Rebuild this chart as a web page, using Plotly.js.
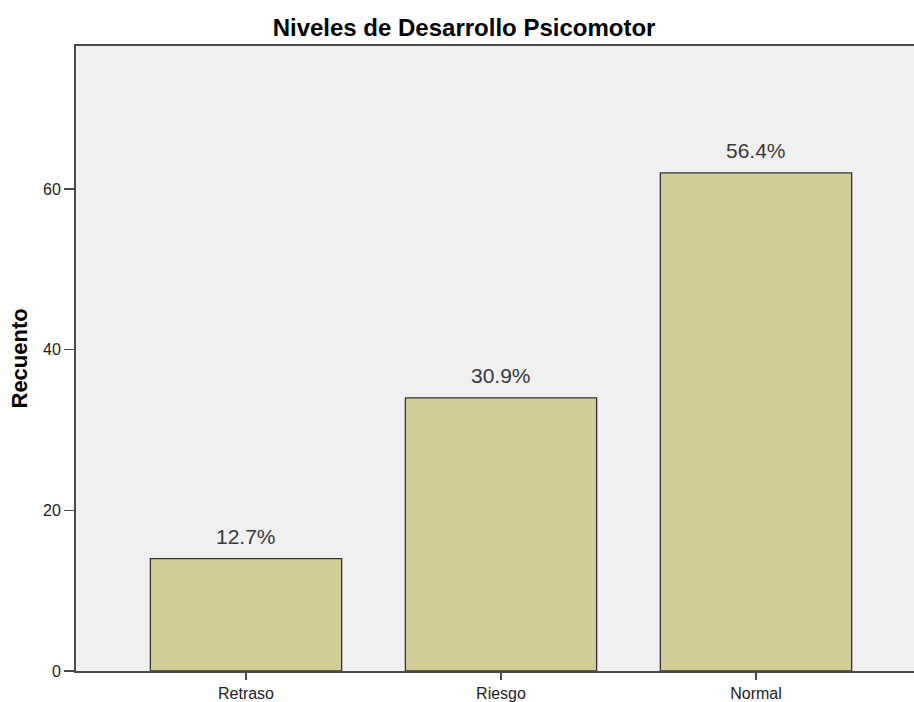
<!DOCTYPE html>
<html>
<head>
<meta charset="utf-8">
<script src="https://cdn.plot.ly/plotly-3.0.1.min.js"></script>
<style>
html, body { margin: 0; padding: 0; background: #ffffff; overflow: hidden; }
#chart { width: 914px; height: 702px; }
</style>
</head>
<body>
<div id="chart"></div>
<script>
// ---- Data ----
const categories = ["Retraso", "Riesgo", "Normal"];
const counts = [14, 34, 62];
const percentLabels = ["12.7%", "30.9%", "56.4%"];
const yTickValues = [0, 20, 40, 60];
const chartTitle = "Niveles de Desarrollo Psicomotor";
const yAxisTitle = "Recuento";

const FONT = "Liberation Sans, Arial, sans-serif";

const trace = {
  type: "bar",
  x: categories,
  y: counts,
  width: 0.75,
  marker: { color: "#D3CE97", line: { color: "#333333", width: 1.3 } },
  hoverinfo: "x+y",
  showlegend: false
};

const annotations = categories.map((c, i) => ({
  x: c, y: counts[i], xref: "x", yref: "y",
  text: percentLabels[i], showarrow: false,
  yanchor: "bottom", xanchor: "center", yshift: 9,
  font: { family: FONT, size: 21, color: "#3a3a3a" }
}));

annotations.push({
  xref: "paper", yref: "paper", x: 0, y: 0.5,
  xanchor: "center", yanchor: "middle", xshift: -57,
  textangle: -90, showarrow: false, text: yAxisTitle,
  font: { family: FONT, size: 22, color: "#000000", weight: "bold" }
});

const layout = {
  width: 914, height: 702,
  margin: { l: 76, r: 0, t: 46, b: 31, pad: 0 },
  paper_bgcolor: "#ffffff",
  plot_bgcolor: "#F0F0F0",
  title: {
    text: "<b>" + chartTitle + "</b>",
    xref: "container", yref: "container",
    x: 0.5077, y: 1 - 28 / 702, xanchor: "center", yanchor: "middle",
    font: { family: FONT, size: 24, color: "#000000" }
  },
  xaxis: {
    type: "category",
    range: [-0.6667, 2.6196],
    showline: true, linecolor: "#4a4a4a", linewidth: 2, mirror: true,
    ticks: "outside", ticklen: 7, tickwidth: 1.5, tickcolor: "#4a4a4a",
    showgrid: false, zeroline: false,
    tickfont: { family: FONT, size: 16, color: "#222222" }
  },
  yaxis: {
    range: [0, 77.8],
    tickvals: yTickValues,
    showline: true, linecolor: "#4a4a4a", linewidth: 2,
    ticks: "outside", ticklen: 10, tickwidth: 1.5, tickcolor: "#4a4a4a",
    showgrid: false, zeroline: false,
    tickfont: { family: FONT, size: 16, color: "#222222" }
  },
  annotations: annotations
};

Plotly.newPlot("chart", [trace], layout, { displayModeBar: false, staticPlot: true });
</script>
</body>
</html>
